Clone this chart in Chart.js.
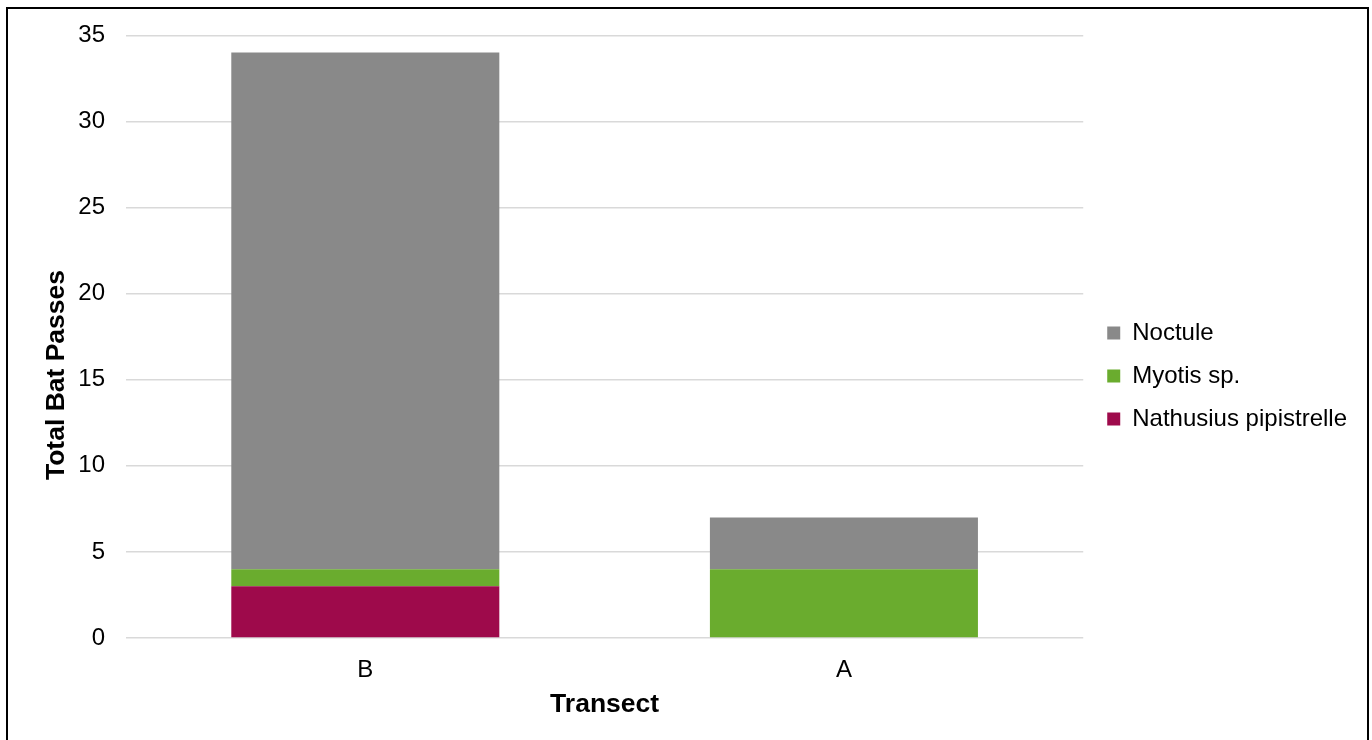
<!DOCTYPE html>
<html>
<head>
<meta charset="utf-8">
<script src="https://cdn.jsdelivr.net/npm/chart.js@4"></script>
<style>
  body { margin: 0; background: #fff; }
  #wrap { position: relative; width: 1372px; height: 740px; }
</style>
</head>
<body>
<div id="wrap"><canvas id="myChart"></canvas></div>
<script>
  // values
  const transects = ['B', 'A'];
  const nathusius = [3, 0];
  const myotis = [1, 4];
  const noctule = [30, 3];
  const yTicks = [0, 5, 10, 15, 20, 25, 30, 35];

  const font = 'Liberation Sans, Arial, sans-serif';

  // outer frame, like the box round the original
  const framePlugin = {
    id: 'frame',
    afterDraw(chart) {
      const c = chart.ctx;
      c.save();
      c.strokeStyle = '#000';
      c.lineWidth = 2;
      c.strokeRect(7, 8, 1361, 760);
      c.restore();
    }
  };

  // y title sits centred on the whole chart height, not the plot area
  const yTitlePlugin = {
    id: 'yTitle',
    afterDraw(chart) {
      const c = chart.ctx;
      c.save();
      c.translate(57, chart.height / 2 + 5);
      c.rotate(-Math.PI / 2);
      c.fillStyle = '#000';
      c.font = 'bold 26.5px ' + font;
      c.textAlign = 'center';
      c.textBaseline = 'middle';
      c.fillText('Total Bat Passes', 0, 0);
      c.restore();
    }
  };

  // nudge the legend right a little
  const legendShift = {
    id: 'legendShift',
    afterLayout(chart) {
      const lg = chart.legend;
      lg.left += 5;
      lg.right += 5;
    }
  };

  window.addEventListener('load', setup);

  function setup() {
    const ctx = document.getElementById('myChart').getContext('2d');

    new Chart(ctx, {
      type: 'bar',
      data: {
        labels: transects,
        datasets: [
          { label: 'Nathusius pipistrelle', data: nathusius, backgroundColor: '#9e0a4b' },
          { label: 'Myotis sp.', data: myotis, backgroundColor: '#6aac2e' },
          { label: 'Noctule', data: noctule, backgroundColor: '#898989' }
        ]
      },
      options: {
        responsive: true,
        maintainAspectRatio: false,
        animation: false,
        barPercentage: 1,
        categoryPercentage: 0.56,
        layout: { padding: { left: 41, top: 31, right: 20, bottom: 19 } },
        scales: {
          x: {
            stacked: true,
            afterFit(axis) { axis.height = 83; },
            grid: { display: false, drawTicks: false },
            border: { display: false },
            ticks: { color: '#000', font: { family: font, size: 24 }, padding: 18 },
            title: { display: true, text: 'Transect', color: '#000', font: { family: font, size: 26.5, weight: 'bold' }, padding: { top: 4, bottom: 0 } }
          },
          y: {
            stacked: true,
            min: 0,
            max: 35,
            afterBuildTicks(axis) {
              axis.ticks = yTicks.map(v => ({ value: v }));
            },
            afterFit(axis) { axis.width = 85; },
            grid: { color: '#d9d9d9', lineWidth: 1.6, drawTicks: false },
            border: { display: false },
            ticks: { color: '#000', font: { family: font, size: 24 }, padding: 21 },
            title: { display: false }
          }
        },
        plugins: {
          legend: {
            position: 'right',
            reverse: true,
            labels: {
              color: '#000',
              font: { family: font, size: 24 },
              boxWidth: 13,
              boxHeight: 13,
              padding: 19
            }
          },
          tooltip: { enabled: false }
        }
      },
      plugins: [framePlugin, yTitlePlugin, legendShift]
    });
  }
</script>
</body>
</html>
